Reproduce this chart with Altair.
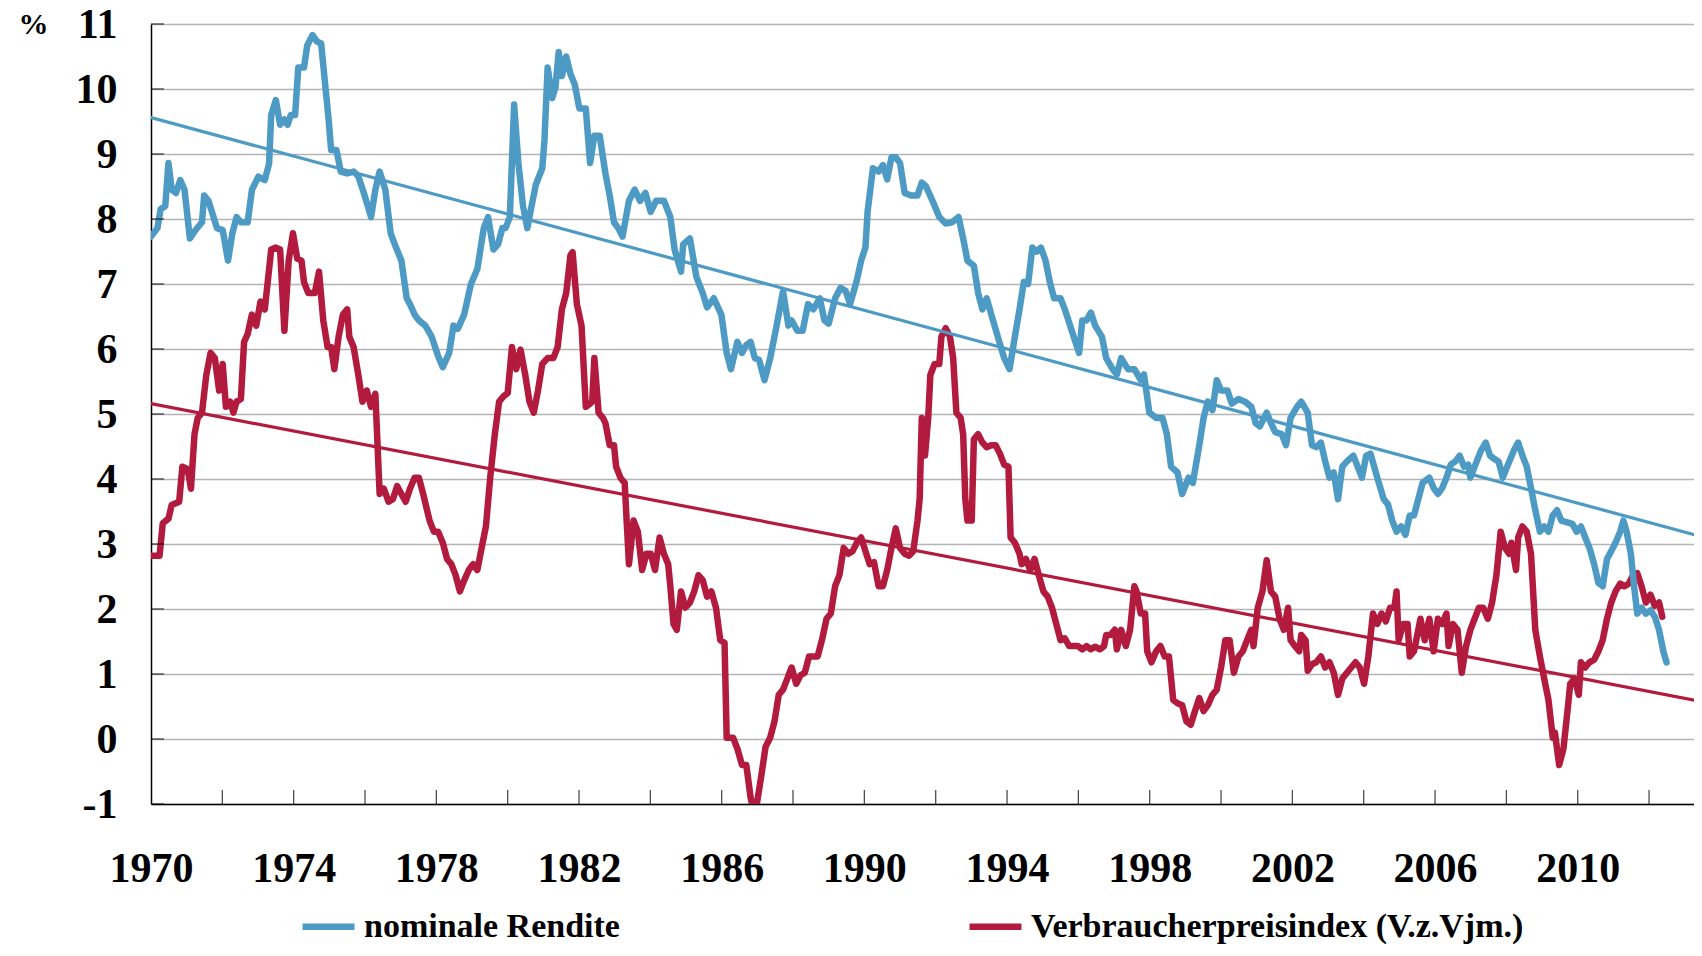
import altair as alt
import pandas as pd

S1 = "nominale Rendite"
S2 = "Verbraucherpreisindex (V.z.Vjm.)"

rendite_jahr = [1970.00, 1970.18, 1970.27, 1970.40, 1970.49, 1970.58, 1970.70, 1970.82, 1970.94, 1971.09,
    1971.25, 1971.43, 1971.49, 1971.61, 1971.85, 1972.01, 1972.16, 1972.28, 1972.40, 1972.52,
    1972.71, 1972.83, 1973.01, 1973.19, 1973.31, 1973.37, 1973.50, 1973.62, 1973.74, 1973.83,
    1973.92, 1974.04, 1974.13, 1974.29, 1974.38, 1974.53, 1974.65, 1974.77, 1974.89, 1974.98,
    1975.05, 1975.20, 1975.32, 1975.50, 1975.68, 1975.81, 1975.99, 1976.17, 1976.29, 1976.41,
    1976.57, 1976.72, 1976.87, 1977.02, 1977.17, 1977.26, 1977.39, 1977.51, 1977.69, 1977.87,
    1978.05, 1978.18, 1978.36, 1978.48, 1978.60, 1978.78, 1978.97, 1979.15, 1979.33, 1979.45,
    1979.60, 1979.73, 1979.85, 1979.94, 1980.06, 1980.18, 1980.30, 1980.43, 1980.55, 1980.67,
    1980.79, 1980.97, 1981.03, 1981.12, 1981.25, 1981.34, 1981.43, 1981.52, 1981.64, 1981.76,
    1981.88, 1982.01, 1982.19, 1982.31, 1982.43, 1982.58, 1982.74, 1982.86, 1982.98, 1983.10,
    1983.22, 1983.40, 1983.56, 1983.71, 1983.86, 1984.01, 1984.16, 1984.38, 1984.56, 1984.68,
    1984.86, 1984.92, 1985.11, 1985.29, 1985.47, 1985.59, 1985.78, 1985.99, 1986.14, 1986.26,
    1986.44, 1986.57, 1986.69, 1986.81, 1986.93, 1987.05, 1987.20, 1987.36, 1987.54, 1987.72,
    1987.87, 1987.96, 1988.12, 1988.27, 1988.42, 1988.57, 1988.75, 1988.88, 1989.00, 1989.18,
    1989.33, 1989.48, 1989.60, 1989.79, 1989.91, 1990.03, 1990.09, 1990.24, 1990.40, 1990.52,
    1990.64, 1990.76, 1990.88, 1991.00, 1991.13, 1991.31, 1991.49, 1991.61, 1991.73, 1991.91,
    1992.10, 1992.28, 1992.46, 1992.64, 1992.77, 1992.89, 1993.07, 1993.19, 1993.31, 1993.43,
    1993.56, 1993.74, 1993.92, 1994.07, 1994.22, 1994.35, 1994.47, 1994.59, 1994.71, 1994.83,
    1994.95, 1995.08, 1995.20, 1995.32, 1995.50, 1995.62, 1995.87, 1996.02, 1996.11, 1996.23,
    1996.35, 1996.47, 1996.66, 1996.78, 1996.96, 1997.08, 1997.20, 1997.39, 1997.57, 1997.75,
    1997.84, 1997.99, 1998.18, 1998.36, 1998.48, 1998.60, 1998.78, 1998.91, 1999.09, 1999.21,
    1999.39, 1999.51, 1999.63, 1999.76, 1999.88, 2000.00, 2000.18, 2000.30, 2000.49, 2000.67,
    2000.85, 2000.97, 2001.09, 2001.28, 2001.40, 2001.52, 2001.70, 2001.82, 2001.95, 2002.13,
    2002.25, 2002.43, 2002.55, 2002.67, 2002.80, 2002.92, 2003.04, 2003.16, 2003.28, 2003.40,
    2003.53, 2003.71, 2003.83, 2003.95, 2004.07, 2004.19, 2004.38, 2004.56, 2004.68, 2004.80,
    2004.92, 2005.05, 2005.17, 2005.29, 2005.41, 2005.53, 2005.65, 2005.84, 2005.96, 2006.08,
    2006.20, 2006.32, 2006.44, 2006.57, 2006.69, 2006.81, 2006.93, 2006.99, 2007.11, 2007.29,
    2007.42, 2007.54, 2007.66, 2007.78, 2007.90, 2008.02, 2008.21, 2008.33, 2008.45, 2008.57,
    2008.69, 2008.81, 2008.94, 2009.06, 2009.18, 2009.30, 2009.42, 2009.54, 2009.73, 2009.85,
    2009.97, 2010.09, 2010.21, 2010.33, 2010.46, 2010.58, 2010.70, 2010.82, 2010.94, 2011.06,
    2011.19, 2011.28, 2011.37, 2011.49, 2011.58, 2011.67, 2011.79, 2011.91, 2012.04, 2012.16,
    2012.28, 2012.40, 2012.49]

rendite_wert = [7.73, 7.86, 8.15, 8.20, 8.86, 8.45, 8.40, 8.60, 8.45, 7.70,
    7.83, 7.95, 8.36, 8.28, 7.86, 7.83, 7.36, 7.78, 8.03, 7.95,
    7.95, 8.45, 8.65, 8.60, 8.85, 9.60, 9.83, 9.45, 9.53, 9.45,
    9.60, 9.60, 10.33, 10.33, 10.67, 10.83, 10.73, 10.70, 10.03, 9.53,
    9.06, 9.06, 8.73, 8.70, 8.73, 8.66, 8.36, 8.03, 8.45, 8.73,
    8.45, 7.78, 7.56, 7.36, 6.78, 6.69, 6.53, 6.44, 6.36, 6.19,
    5.89, 5.72, 5.94, 6.36, 6.31, 6.53, 7.00, 7.23, 7.86, 8.03,
    7.53, 7.61, 7.86, 7.86, 8.03, 9.76, 8.86, 8.20, 7.86, 8.20,
    8.53, 8.78, 9.20, 10.33, 9.86, 10.03, 10.57, 10.20, 10.50, 10.23,
    10.07, 9.70, 9.70, 8.86, 9.28, 9.28, 8.70, 8.36, 7.95, 7.86,
    7.73, 8.28, 8.45, 8.28, 8.40, 8.11, 8.28, 8.28, 8.03, 7.53,
    7.19, 7.61, 7.70, 7.11, 6.86, 6.64, 6.78, 6.53, 5.94, 5.69,
    6.11, 5.94, 6.06, 6.11, 5.86, 5.83, 5.52, 5.86, 6.36, 6.89,
    6.36, 6.44, 6.28, 6.28, 6.69, 6.61, 6.78, 6.44, 6.39, 6.78,
    6.94, 6.89, 6.69, 7.06, 7.36, 7.56, 8.11, 8.78, 8.73, 8.83,
    8.61, 8.95, 8.95, 8.86, 8.40, 8.36, 8.36, 8.56, 8.50, 8.28,
    8.03, 7.93, 7.95, 8.03, 7.70, 7.36, 7.28, 6.86, 6.61, 6.78,
    6.53, 6.19, 5.86, 5.69, 6.19, 6.61, 7.03, 7.00, 7.56, 7.50,
    7.56, 7.36, 7.03, 6.78, 6.78, 6.61, 6.19, 5.94, 6.44, 6.44,
    6.56, 6.36, 6.19, 5.86, 5.69, 5.61, 5.86, 5.69, 5.69, 5.52,
    5.61, 5.02, 4.94, 4.94, 4.69, 4.19, 4.10, 3.77, 4.02, 3.94,
    4.52, 4.94, 5.19, 5.06, 5.52, 5.36, 5.36, 5.16, 5.23, 5.19,
    5.11, 4.86, 4.81, 5.02, 4.86, 4.72, 4.69, 4.52, 4.94, 5.11,
    5.19, 5.02, 4.52, 4.49, 4.56, 4.27, 4.02, 4.10, 3.69, 4.19,
    4.27, 4.36, 4.19, 4.02, 4.36, 4.39, 4.02, 3.69, 3.61, 3.36,
    3.19, 3.27, 3.14, 3.44, 3.44, 3.69, 3.94, 4.02, 3.86, 3.77,
    3.86, 4.02, 4.22, 4.27, 4.36, 4.19, 4.22, 4.02, 4.19, 4.44,
    4.56, 4.36, 4.31, 4.27, 4.02, 4.19, 4.44, 4.56, 4.36, 4.19,
    3.86, 3.52, 3.19, 3.27, 3.19, 3.44, 3.52, 3.36, 3.33, 3.31,
    3.19, 3.27, 3.10, 2.94, 2.69, 2.40, 2.35, 2.77, 2.89, 3.02,
    3.19, 3.36, 3.19, 2.85, 2.35, 1.93, 2.02, 1.93, 1.98, 1.88,
    1.68, 1.35, 1.18]

vpi_jahr = [1970.00, 1970.24, 1970.33, 1970.49, 1970.58, 1970.79, 1970.88, 1971.03, 1971.12, 1971.22,
    1971.31, 1971.43, 1971.55, 1971.67, 1971.79, 1971.91, 1972.01, 1972.10, 1972.22, 1972.31,
    1972.40, 1972.52, 1972.61, 1972.71, 1972.83, 1972.95, 1973.07, 1973.19, 1973.37, 1973.50,
    1973.62, 1973.74, 1973.86, 1973.98, 1974.10, 1974.22, 1974.29, 1974.41, 1974.59, 1974.71,
    1974.83, 1974.95, 1975.05, 1975.14, 1975.26, 1975.38, 1975.50, 1975.56, 1975.68, 1975.81,
    1975.93, 1976.05, 1976.17, 1976.29, 1976.41, 1976.53, 1976.66, 1976.78, 1976.90, 1977.02,
    1977.14, 1977.26, 1977.39, 1977.51, 1977.63, 1977.81, 1977.93, 1978.05, 1978.18, 1978.30,
    1978.42, 1978.54, 1978.66, 1978.78, 1978.91, 1979.03, 1979.15, 1979.27, 1979.39, 1979.51,
    1979.64, 1979.76, 1979.88, 1980.00, 1980.12, 1980.24, 1980.36, 1980.49, 1980.61, 1980.73,
    1980.85, 1980.97, 1981.12, 1981.28, 1981.40, 1981.52, 1981.64, 1981.76, 1981.82, 1981.94,
    1982.07, 1982.19, 1982.31, 1982.37, 1982.43, 1982.55, 1982.67, 1982.74, 1982.86, 1982.98,
    1983.04, 1983.16, 1983.28, 1983.40, 1983.53, 1983.65, 1983.77, 1983.89, 1984.01, 1984.13,
    1984.26, 1984.38, 1984.50, 1984.56, 1984.65, 1984.74, 1984.86, 1984.98, 1985.11, 1985.23,
    1985.35, 1985.47, 1985.59, 1985.71, 1985.84, 1985.96, 1986.08, 1986.14, 1986.32, 1986.44,
    1986.57, 1986.69, 1986.81, 1986.87, 1986.99, 1987.11, 1987.23, 1987.36, 1987.48, 1987.60,
    1987.72, 1987.84, 1987.96, 1988.09, 1988.21, 1988.33, 1988.45, 1988.69, 1988.81, 1988.94,
    1989.06, 1989.18, 1989.30, 1989.42, 1989.55, 1989.67, 1989.79, 1989.91, 1990.03, 1990.15,
    1990.27, 1990.40, 1990.52, 1990.64, 1990.76, 1990.88, 1991.00, 1991.13, 1991.25, 1991.37,
    1991.49, 1991.55, 1991.61, 1991.70, 1991.79, 1991.85, 1991.97, 1992.10, 1992.16, 1992.28,
    1992.40, 1992.49, 1992.58, 1992.70, 1992.77, 1992.83, 1992.89, 1993.01, 1993.07, 1993.19,
    1993.31, 1993.43, 1993.56, 1993.68, 1993.80, 1993.92, 1994.04, 1994.10, 1994.22, 1994.35,
    1994.41, 1994.53, 1994.65, 1994.77, 1994.89, 1995.02, 1995.14, 1995.26, 1995.38, 1995.50,
    1995.62, 1995.74, 1995.87, 1995.99, 1996.11, 1996.23, 1996.35, 1996.47, 1996.60, 1996.72,
    1996.78, 1996.90, 1997.02, 1997.08, 1997.20, 1997.33, 1997.45, 1997.57, 1997.63, 1997.75,
    1997.87, 1997.93, 1998.05, 1998.18, 1998.30, 1998.42, 1998.54, 1998.66, 1998.78, 1998.91,
    1999.03, 1999.15, 1999.27, 1999.39, 1999.51, 1999.63, 1999.76, 1999.88, 2000.00, 2000.12,
    2000.24, 2000.36, 2000.49, 2000.61, 2000.73, 2000.85, 2000.91, 2001.03, 2001.16, 2001.28,
    2001.40, 2001.52, 2001.64, 2001.76, 2001.88, 2001.95, 2002.07, 2002.19, 2002.25, 2002.37,
    2002.43, 2002.55, 2002.67, 2002.80, 2002.92, 2003.04, 2003.16, 2003.28, 2003.40, 2003.53,
    2003.65, 2003.77, 2003.89, 2004.01, 2004.13, 2004.26, 2004.38, 2004.50, 2004.62, 2004.74,
    2004.86, 2004.92, 2004.98, 2005.11, 2005.23, 2005.29, 2005.41, 2005.53, 2005.59, 2005.71,
    2005.84, 2005.96, 2006.08, 2006.20, 2006.32, 2006.38, 2006.50, 2006.63, 2006.75, 2006.87,
    2006.99, 2007.11, 2007.23, 2007.35, 2007.48, 2007.60, 2007.72, 2007.84, 2007.96, 2008.08,
    2008.14, 2008.27, 2008.33, 2008.45, 2008.57, 2008.69, 2008.81, 2008.94, 2009.06, 2009.18,
    2009.30, 2009.36, 2009.48, 2009.60, 2009.73, 2009.79, 2009.91, 2010.03, 2010.09, 2010.21,
    2010.33, 2010.46, 2010.58, 2010.70, 2010.82, 2010.94, 2011.06, 2011.19, 2011.31, 2011.43,
    2011.55, 2011.67, 2011.79, 2011.91, 2012.04, 2012.16, 2012.28, 2012.37]

vpi_wert = [2.82, 2.82, 3.32, 3.39, 3.60, 3.65, 4.19, 4.15, 3.85, 4.69,
    4.94, 5.02, 5.60, 5.94, 5.86, 5.36, 5.77, 5.11, 5.19, 5.02,
    5.19, 5.23, 6.11, 6.23, 6.53, 6.36, 6.73, 6.61, 7.53, 7.56,
    7.53, 6.28, 7.36, 7.78, 7.39, 7.36, 7.03, 6.86, 6.86, 7.19,
    6.44, 6.03, 6.03, 5.69, 6.19, 6.53, 6.61, 6.19, 6.03, 5.61,
    5.19, 5.36, 5.11, 5.31, 3.77, 3.85, 3.65, 3.69, 3.89, 3.77,
    3.65, 3.85, 4.02, 4.02, 3.77, 3.36, 3.19, 3.19, 3.02, 2.77,
    2.69, 2.52, 2.27, 2.44, 2.60, 2.69, 2.60, 2.94, 3.27, 4.02,
    4.69, 5.19, 5.27, 5.32, 6.03, 5.69, 5.99, 5.61, 5.19, 5.02,
    5.36, 5.77, 5.86, 5.86, 6.03, 6.61, 6.86, 7.44, 7.49, 6.69,
    6.36, 5.11, 5.16, 5.19, 5.86, 5.02, 4.94, 4.86, 4.52, 4.52,
    4.19, 4.02, 3.94, 2.69, 3.36, 3.19, 2.60, 2.85, 2.85, 2.60,
    3.10, 2.85, 2.69, 2.35, 1.77, 1.68, 2.27, 2.02, 2.10, 2.27,
    2.52, 2.44, 2.19, 2.27, 2.02, 1.52, 1.48, 0.02, 0.02, -0.15,
    -0.40, -0.40, -0.90, -1.05, -0.98, -0.57, -0.12, 0.02, 0.27, 0.68,
    0.76, 0.93, 1.10, 0.85, 0.98, 1.02, 1.27, 1.27, 1.52, 1.85,
    1.93, 2.35, 2.52, 2.94, 2.85, 2.89, 3.02, 3.10, 2.89, 2.69,
    2.72, 2.35, 2.35, 2.60, 2.94, 3.24, 2.94, 2.85, 2.82, 2.89,
    3.36, 3.69, 4.94, 4.36, 4.94, 5.60, 5.77, 5.77, 6.19, 6.32,
    6.19, 5.86, 5.02, 4.94, 4.69, 3.69, 3.36, 3.36, 4.61, 4.69,
    4.56, 4.49, 4.52, 4.52, 4.39, 4.22, 4.19, 3.10, 3.02, 2.85,
    2.69, 2.77, 2.60, 2.77, 2.52, 2.27, 2.19, 2.02, 1.77, 1.52,
    1.55, 1.43, 1.43, 1.43, 1.38, 1.43, 1.38, 1.42, 1.38, 1.43,
    1.60, 1.60, 1.68, 1.38, 1.68, 1.43, 1.68, 2.35, 2.27, 1.93,
    1.93, 1.35, 1.18, 1.35, 1.43, 1.27, 1.27, 0.60, 0.55, 0.52,
    0.27, 0.22, 0.43, 0.63, 0.43, 0.52, 0.68, 0.76, 1.10, 1.52,
    1.52, 1.02, 1.27, 1.35, 1.52, 1.68, 1.43, 2.02, 2.27, 2.75,
    2.27, 2.19, 1.85, 1.68, 2.02, 1.52, 1.43, 1.35, 1.60, 1.52,
    1.05, 1.15, 1.18, 1.27, 1.10, 1.18, 1.02, 0.68, 0.93, 1.02,
    1.10, 1.18, 1.10, 0.85, 1.27, 1.93, 1.77, 1.93, 1.81, 2.02,
    2.02, 2.27, 1.52, 1.77, 1.77, 1.27, 1.35, 1.68, 1.85, 1.52,
    1.85, 1.35, 1.85, 1.77, 1.93, 1.43, 1.77, 1.68, 1.02, 1.43,
    1.68, 1.85, 2.02, 2.02, 1.85, 2.10, 2.52, 3.19, 2.94, 2.85,
    3.02, 2.60, 3.10, 3.27, 3.19, 2.85, 1.68, 1.27, 0.93, 0.60,
    0.02, 0.10, -0.40, -0.15, 0.52, 0.85, 0.93, 0.68, 1.18, 1.10,
    1.18, 1.22, 1.35, 1.52, 1.85, 2.10, 2.27, 2.39, 2.35, 2.39,
    2.52, 2.55, 2.35, 2.10, 2.22, 2.05, 2.10, 1.88]

trend_jahr = [1970.0, 2013.43]
trend_rendite = [9.56, 3.12]
trend_vpi = [5.16, 0.58]

label_jahre = list(range(1970, 2011, 4))
tick_jahre = list(range(1972, 2013, 2))
y_werte = list(range(-1, 12))

BLUE = "#4d9ac4"
RED = "#b21b3d"
FONT = "Liberation Serif"
X_MIN, X_MAX = 1970.0, 2013.26

df_r = pd.DataFrame({"Jahr": rendite_jahr, "Wert": rendite_wert, "Reihe": S1})
df_v = pd.DataFrame({"Jahr": vpi_jahr, "Wert": vpi_wert, "Reihe": S2})
df_tr = pd.DataFrame({"Jahr": trend_jahr, "Wert": trend_rendite, "Reihe": S1})
df_tv = pd.DataFrame({"Jahr": trend_jahr, "Wert": trend_vpi, "Reihe": S2})
df_xt = pd.DataFrame({"Jahr": tick_jahre, "Wert": [-1] * len(tick_jahre)})
df_yt = pd.DataFrame({"Jahr": [X_MIN] * len(y_werte), "Wert": y_werte})

xscale = alt.Scale(domain=[X_MIN, X_MAX], nice=False, zero=False)
yscale = alt.Scale(domain=[-1, 11], nice=False, zero=False)
cscale = alt.Scale(domain=[S1, S2], range=[BLUE, RED])

xaxis = alt.Axis(values=label_jahre, format="d", title=None, grid=False, ticks=False,
                 tickSize=0, labelFont=FONT, labelFontSize=42, labelFontWeight="bold",
                 labelColor="black", labelPadding=64, labelBaseline="middle",
                 domainColor="black", domainWidth=1.5, labelFlush=False, labelOverlap=False)
yaxis = alt.Axis(values=y_werte, title="%", titleAngle=0, titleX=-118, titleY=0,
                 titleAlign="center", titleBaseline="middle", titleFont=FONT,
                 titleFontSize=30, titleFontWeight="bold", titleColor="black",
                 grid=True, gridColor="#b4b4b4", gridWidth=1.3, ticks=False, tickSize=0,
                 labelExpr="'' + datum.value",
                 labelFont=FONT, labelFontSize=42, labelFontWeight="bold", labelColor="black",
                 labelPadding=34, labelBaseline="middle", labelAlign="right",
                 domainColor="black", domainWidth=1.5, labelFlush=False, labelOverlap=False)

legend = alt.Legend(orient="none", legendX=148, legendY=873, direction="horizontal",
                    title=None, symbolType="stroke", symbolStrokeWidth=6.5, symbolSize=2700,
                    labelFont=FONT, labelFontSize=34, labelFontWeight="bold",
                    labelColor="black", labelOffset=6, labelLimit=1000, columnPadding=336,
                    padding=0, columns=2)

X = alt.X("Jahr:Q", scale=xscale, axis=xaxis)
Y = alt.Y("Wert:Q", scale=yscale, axis=yaxis)

def series(df, width):
    return alt.Chart(df).mark_line(strokeWidth=width, strokeCap="round", strokeJoin="round",
                                   clip=True).encode(
        x=X, y=Y,
        color=alt.Color("Reihe:N", scale=cscale, legend=legend),
    )

x_ticks = alt.Chart(df_xt).mark_tick(orient="vertical", size=14, yOffset=-7, color="black",
                                     thickness=1.3).encode(x=X, y=Y)
y_ticks = alt.Chart(df_yt).mark_tick(orient="horizontal", size=13, xOffset=6.5, color="black",
                                     thickness=1.3).encode(x=X, y=Y)

chart = alt.layer(
    series(df_v, 6.5),
    series(df_r, 6.5),
    series(df_tv, 3.2),
    series(df_tr, 3.2),
    x_ticks,
    y_ticks,
).properties(
    width=1543, height=780,
    autosize=alt.AutoSizeParams(type="none"),
    padding={"left": 143, "top": 16, "right": 0, "bottom": 140},
    background="white",
).configure_view(stroke=None)

chart.save("out.html", embed_options={"renderer": "svg", "actions": False})
